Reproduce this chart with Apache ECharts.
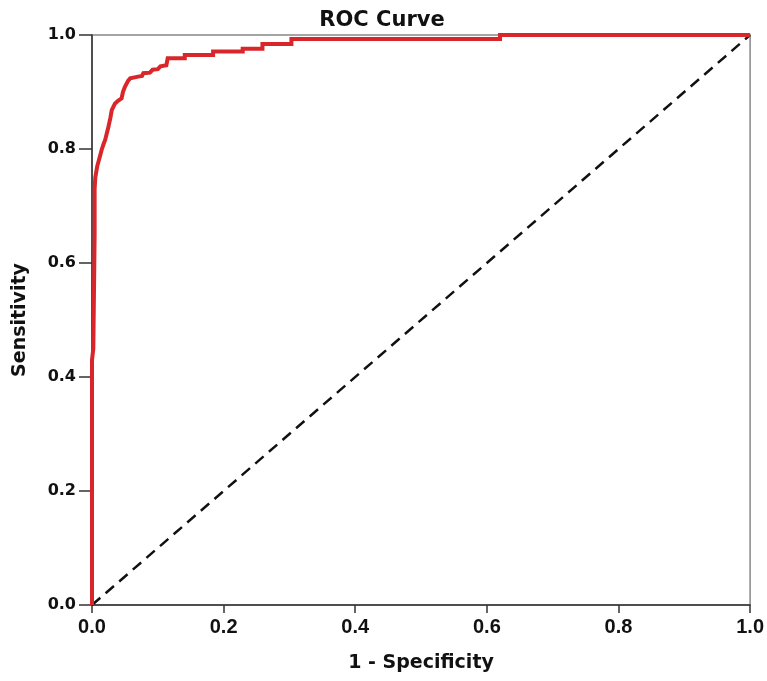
<!DOCTYPE html>
<html><head><meta charset="utf-8">
<script src="https://cdn.jsdelivr.net/npm/echarts@6/dist/echarts.min.js"></script>
<style>html,body{margin:0;padding:0;background:#fff}#c{width:767px;height:681px}</style>
</head><body><div id="c"></div>
<script>
const xTicks = [0, 0.2, 0.4, 0.6, 0.8, 1.0];
const yTicks = [0, 0.2, 0.4, 0.6, 0.8, 1.0];
const rocFpr = [0,0,0.002,0.003,0.004,0.004,0.005,0.008,0.012,0.015,0.018,0.020,0.023,0.025,0.028,0.030,0.035,0.040,0.045,0.047,0.050,0.055,0.058,0.070,0.076,0.078,0.088,0.092,0.100,0.104,0.113,0.115,0.115,0.141,0.141,0.184,0.184,0.229,0.229,0.259,0.259,0.303,0.303,0.62,0.62,1.0];
const rocTpr = [0,0.43,0.45,0.55,0.65,0.73,0.75,0.77,0.787,0.80,0.81,0.816,0.83,0.839,0.855,0.868,0.88,0.885,0.889,0.90,0.909,0.92,0.924,0.927,0.928,0.933,0.934,0.939,0.940,0.945,0.947,0.947,0.959,0.959,0.965,0.965,0.971,0.971,0.976,0.976,0.984,0.984,0.993,0.993,1.0,1.0];
const refX = [0, 1];
const refY = [0, 1];

const chart = echarts.init(document.getElementById('c'));
const dvs = 'DejaVu Sans, sans-serif';
const lib = '"Liberation Sans", Arial, sans-serif';
chart.setOption({
  animation: false,
  backgroundColor: '#fff',
  title: {
    text: 'ROC Curve', left: 377, top: 5, textAlign: 'center',
    textStyle: { fontFamily: dvs, fontSize: 21, fontWeight: 'bold', color: '#111' }
  },
  grid: { left: 92, right: 16, top: 35, bottom: 76, show: true, borderColor: '#888', borderWidth: 1.5 },
  xAxis: {
    type: 'value', min: 0, max: 1, interval: 0.2,
    name: '1 - Specificity', nameLocation: 'middle', nameGap: 49,
    nameTextStyle: { fontFamily: dvs, fontSize: 19, fontWeight: 'bold', color: '#111' },
    axisLine: { lineStyle: { color: '#333', width: 1.5 } },
    axisTick: { length: 8, lineStyle: { color: '#333', width: 1.5 } },
    splitLine: { show: false },
    axisLabel: { fontFamily: lib, fontSize: 20, fontWeight: 'bold', color: '#111', margin: 12,
      formatter: v => v.toFixed(1) }
  },
  yAxis: {
    type: 'value', min: 0, max: 1, interval: 0.2,
    name: 'Sensitivity', nameLocation: 'middle', nameGap: 62, nameRotate: 90,
    nameTextStyle: { fontFamily: dvs, fontSize: 19, fontWeight: 'bold', color: '#111' },
    axisLine: { lineStyle: { color: '#333', width: 1.5 } },
    axisTick: { length: 13, lineStyle: { color: '#333', width: 1.5 } },
    splitLine: { show: false },
    axisLabel: { fontFamily: dvs, fontSize: 16, fontWeight: 'bold', color: '#111', margin: 16,
      formatter: v => v.toFixed(1) }
  },
  series: [
    {
      type: 'line', data: refX.map((x, i) => [x, refY[i]]), symbol: 'none',
      lineStyle: { color: '#111', width: 2.5, type: [11, 7] }, z: 2
    },
    {
      type: 'line', data: rocFpr.map((x, i) => [x, rocTpr[i]]), symbol: 'none',
      lineStyle: { color: '#d9262a', width: 4, join: 'miter' }, z: 3
    }
  ]
});
</script></body></html>
